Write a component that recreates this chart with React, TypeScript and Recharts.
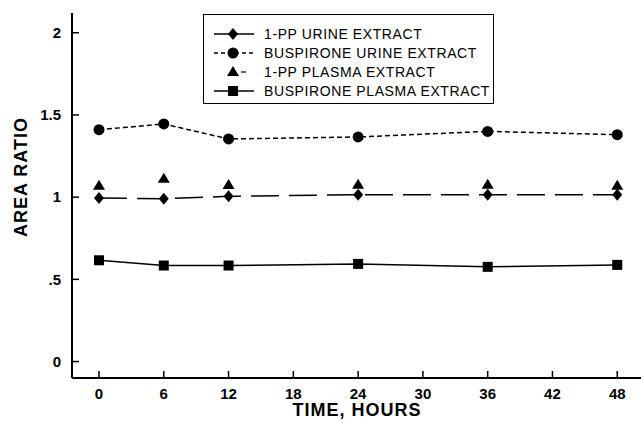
import { CartesianGrid, Legend, Line, LineChart, XAxis, YAxis } from 'recharts';

// time points (hours) and area ratios
const hours = [0, 6, 12, 24, 36, 48];
const ppUrine = [0.995, 0.99, 1.005, 1.015, 1.015, 1.015];
const buspUrine = [1.41, 1.445, 1.354, 1.366, 1.4, 1.38];
const ppPlasma = [1.07, 1.112, 1.074, 1.076, 1.076, 1.07];
const buspPlasma = [0.616, 0.584, 0.584, 0.594, 0.576, 0.588];

const xTicks = [0, 6, 12, 18, 24, 30, 36, 42, 48];
const yTicks = [0, 0.5, 1, 1.5, 2];
const yTickLabels = ['0', '.5', '1', '1.5', '2'];

type Shape = 'diamond' | 'circle' | 'triangle' | 'square';

const series: { key: string; name: string; shape: Shape; dash?: string; line: boolean }[] = [
  { key: 'ppUrine', name: '1-PP URINE EXTRACT', shape: 'diamond', dash: '28 10', line: true },
  { key: 'buspUrine', name: 'BUSPIRONE URINE EXTRACT', shape: 'circle', dash: '5 3', line: true },
  { key: 'ppPlasma', name: '1-PP PLASMA EXTRACT', shape: 'triangle', line: false },
  { key: 'buspPlasma', name: 'BUSPIRONE PLASMA EXTRACT', shape: 'square', line: true },
];

const data = hours.map((h, i) => ({
  hour: h,
  ppUrine: ppUrine[i],
  buspUrine: buspUrine[i],
  ppPlasma: ppPlasma[i],
  buspPlasma: buspPlasma[i],
}));

const FONT = '"Liberation Sans", Arial, Helvetica, sans-serif';

function Marker({ shape, cx, cy }: { shape: Shape; cx: number; cy: number }) {
  if (cx == null || cy == null) return null;
  switch (shape) {
    case 'diamond':
      return <polygon points={`${cx},${cy - 6} ${cx + 5},${cy} ${cx},${cy + 6} ${cx - 5},${cy}`} fill="#000" />;
    case 'circle':
      return <circle cx={cx} cy={cy} r={5.5} fill="#000" />;
    case 'triangle':
      return <polygon points={`${cx},${cy - 6} ${cx + 6},${cy + 4} ${cx - 6},${cy + 4}`} fill="#000" />;
    default:
      return <rect x={cx - 5} y={cy - 5} width={10} height={10} fill="#000" />;
  }
}

function LegendBox() {
  return (
    <div
      style={{
        boxSizing: 'border-box',
        width: 291,
        height: 90,
        border: '1.5px solid #000',
        background: '#fff',
        paddingTop: 9,
        fontFamily: FONT,
        fontSize: 14,
        letterSpacing: 0.6,
        color: '#000',
      }}
    >
      {series.map((s) => (
        <div key={s.key} style={{ display: 'flex', alignItems: 'center', height: 19 }}>
          <svg width={56} height={14} style={{ marginLeft: 4 }}>
            {s.line ? (
              <line x1={6} x2={46} y1={7} y2={7} stroke="#000" strokeWidth={1.5} strokeDasharray={s.dash === '5 3' ? '4 3' : undefined} />
            ) : (
              <line x1={33} x2={38} y1={7} y2={7} stroke="#000" strokeWidth={1.2} />
            )}
            <Marker shape={s.shape} cx={25} cy={7} />
          </svg>
          <span>{s.name}</span>
        </div>
      ))}
    </div>
  );
}

export default function App() {
  return (
    <div style={{ position: 'absolute', left: 0, top: 0, width: 641, height: 423, background: '#fff' }}>
      <LineChart width={641} height={423} data={data} margin={{ top: 13, right: 0, bottom: 0, left: 0 }}>
        <CartesianGrid stroke="none" />
        <XAxis
          dataKey="hour"
          type="number"
          domain={[-2.5, 50.2]}
          allowDataOverflow
          ticks={xTicks}
          height={45}
          tickSize={-7}
          tickMargin={17}
          axisLine={{ stroke: '#000', strokeWidth: 2 }}
          tickLine={{ stroke: '#000', strokeWidth: 1.5 }}
          tick={{ fill: '#000', fontFamily: FONT, fontSize: 15, fontWeight: 'bold' }}
          label={() => (
            <text x={357} y={416} textAnchor="middle" fontFamily={FONT} fontSize={18} fontWeight="bold" letterSpacing={1} fill="#000">
              TIME, HOURS
            </text>
          )}
        />
        <XAxis
          xAxisId="top"
          orientation="top"
          dataKey="hour"
          type="number"
          domain={[-2.5, 50.2]}
          allowDataOverflow
          height={0}
          tick={false}
          tickLine={false}
          axisLine={{ stroke: '#000', strokeWidth: 2 }}
        />
        <YAxis
          type="number"
          domain={[-0.1, 2.12]}
          allowDataOverflow
          ticks={yTicks}
          width={72}
          tickSize={-7}
          tickMargin={18}
          tickFormatter={(v: number) => yTickLabels[yTicks.indexOf(v)] ?? String(v)}
          axisLine={{ stroke: '#000', strokeWidth: 2 }}
          tickLine={{ stroke: '#000', strokeWidth: 1.5 }}
          tick={{ fill: '#000', fontFamily: FONT, fontSize: 15, fontWeight: 'bold' }}
          label={() => (
            <text
              x={21}
              y={177}
              transform="rotate(-90 21 177)"
              textAnchor="middle"
              dominantBaseline="central"
              fontFamily={FONT}
              fontSize={18}
              fontWeight="bold"
              letterSpacing={1}
              fill="#000"
            >
              AREA RATIO
            </text>
          )}
        />
        <Legend
          layout="vertical"
          align="center"
          verticalAlign="middle"
          wrapperStyle={{ left: 203, top: 14, width: 291, height: 90 }}
          content={() => <LegendBox />}
        />
        {series.map((s) => (
          <Line
            key={s.key}
            dataKey={s.key}
            name={s.name}
            type="linear"
            stroke={s.line ? '#000' : 'none'}
            strokeWidth={1.5}
            strokeDasharray={s.dash}
            isAnimationActive={false}
            dot={(p: any) => <Marker key={`${s.key}-${p.index}`} shape={s.shape} cx={p.cx} cy={p.cy} />}
            activeDot={false}
          />
        ))}
      </LineChart>
    </div>
  );
}
